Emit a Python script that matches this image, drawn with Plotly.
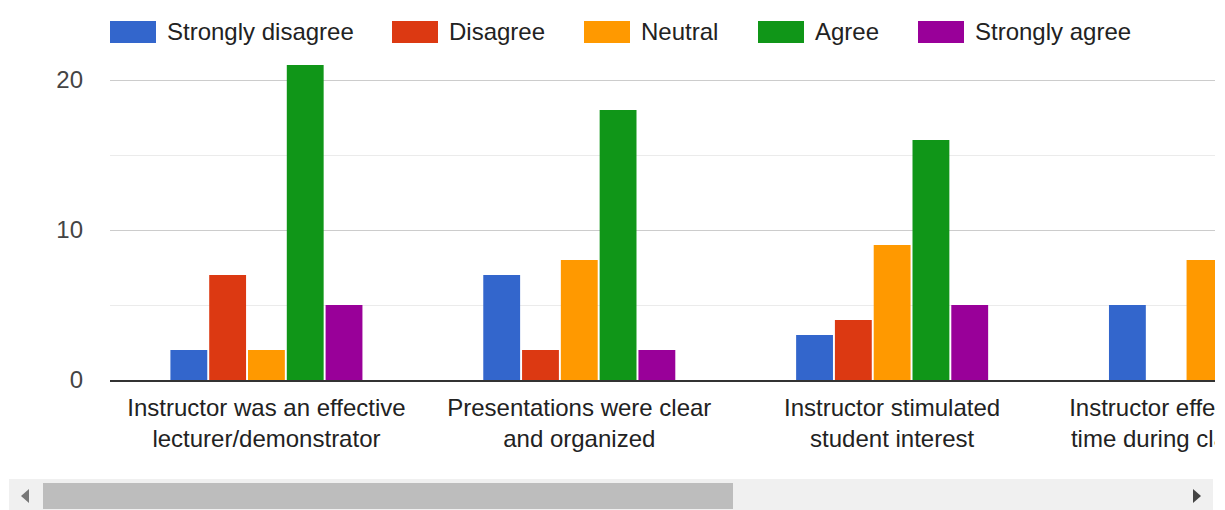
import plotly.graph_objects as go

# ---- data ----
categories = [
    "Instructor was an effective<br>lecturer/demonstrator",
    "Presentations were clear<br>and organized",
    "Instructor stimulated<br>student interest",
    "Instructor effectively used<br>time during class session",
]
series_names = ["Strongly disagree", "Disagree", "Neutral", "Agree", "Strongly agree"]
strongly_disagree = [2, 7, 3, 5]
disagree = [7, 2, 4, 0]
neutral = [2, 8, 9, 8]
agree = [21, 18, 16, None]          # last value hidden beyond the visible area
strongly_agree = [5, 2, 5, None]    # last value hidden beyond the visible area
series_values = [strongly_disagree, disagree, neutral, agree, strongly_agree]
colors = ["#3366cc", "#dc3912", "#ff9900", "#109618", "#990099"]
y_ticks = [0, 10, 20]

W, H = 1225, 510
ML, MR, MT, MB = 110, 10, 5, 130
PW = W - ML - MR
PH = H - MT - MB
FONT = "Liberation Sans, Arial, sans-serif"


def px(xp):
    return (xp - ML) / PW


def py(yp):
    return (H - MB - yp) / PH


fig = go.Figure()
for name, vals, c in zip(series_names, series_values, colors):
    fig.add_trace(go.Bar(name=name, x=categories, y=vals, marker=dict(color=c, line=dict(width=0)),
                         showlegend=False, hoverinfo="x+y+name"))

shapes = []
annotations = []
# custom legend (large swatches)
legend_x = [110, 392, 584, 758, 918]
for name, c, lx in zip(series_names, colors, legend_x):
    shapes.append(dict(type="rect", xref="paper", yref="paper", x0=px(lx), x1=px(lx + 46),
                       y0=py(43), y1=py(21), fillcolor=c, line=dict(width=0), layer="above"))
    annotations.append(dict(xref="paper", yref="paper", x=px(lx + 55), y=py(32), text=name,
                            showarrow=False, xanchor="left", yanchor="middle",
                            font=dict(family=FONT, size=24, color="#222222")))

# white strip clipping overflowing category labels on the right
shapes.append(dict(type="rect", xref="paper", yref="paper", x0=px(1215), x1=px(1230),
                   y0=py(515), y1=py(381), fillcolor="white", line=dict(width=0), layer="above"))
# scrollbar
shapes.append(dict(type="rect", xref="paper", yref="paper", x0=px(9), x1=px(1213),
                   y0=py(510), y1=py(479), fillcolor="#f0f0f0", line=dict(width=0), layer="above"))
shapes.append(dict(type="rect", xref="paper", yref="paper", x0=px(43), x1=px(733),
                   y0=py(509), y1=py(483), fillcolor="#bdbdbd", line=dict(width=0), layer="above"))
shapes.append(dict(type="path", xref="paper", yref="paper",
                   path=f"M {px(29)} {py(489)} L {px(21)} {py(496)} L {px(29)} {py(503)} Z",
                   fillcolor="#777777", line=dict(width=0), layer="above"))
shapes.append(dict(type="path", xref="paper", yref="paper",
                   path=f"M {px(1193)} {py(489)} L {px(1201)} {py(496)} L {px(1193)} {py(503)} Z",
                   fillcolor="#444444", line=dict(width=0), layer="above"))

fig.update_layout(
    width=W, height=H,
    margin=dict(l=ML, r=MR, t=MT, b=MB, pad=0, autoexpand=False),
    paper_bgcolor="white", plot_bgcolor="white",
    barmode="group", bargap=0.38, bargroupgap=0.05,
    showlegend=False,
    shapes=shapes, annotations=annotations,
    font=dict(family=FONT, size=24, color="#222222"),
    xaxis=dict(
        type="category", range=[-0.5, 3.032], showgrid=False, zeroline=False,
        showline=True, linecolor="#333333", linewidth=2, automargin=False,
        ticks="", tickfont=dict(family=FONT, size=24, color="#222222"),
        ticklabelstandoff=5,
    ),
    yaxis=dict(
        range=[0, 25], tickvals=y_ticks, showgrid=True, gridcolor="#cccccc", gridwidth=1,
        zeroline=False, showline=False, ticks="", automargin=False,
        tickfont=dict(family=FONT, size=24, color="#444444"),
        ticklabelstandoff=26,
        minor=dict(dtick=5, tick0=0, showgrid=True, gridcolor="#ebebeb", gridwidth=1),
    ),
)

fig.write_html("out.html", config={"displayModeBar": False},
               post_script="document.body.style.margin='0';document.body.style.overflow='hidden';")
